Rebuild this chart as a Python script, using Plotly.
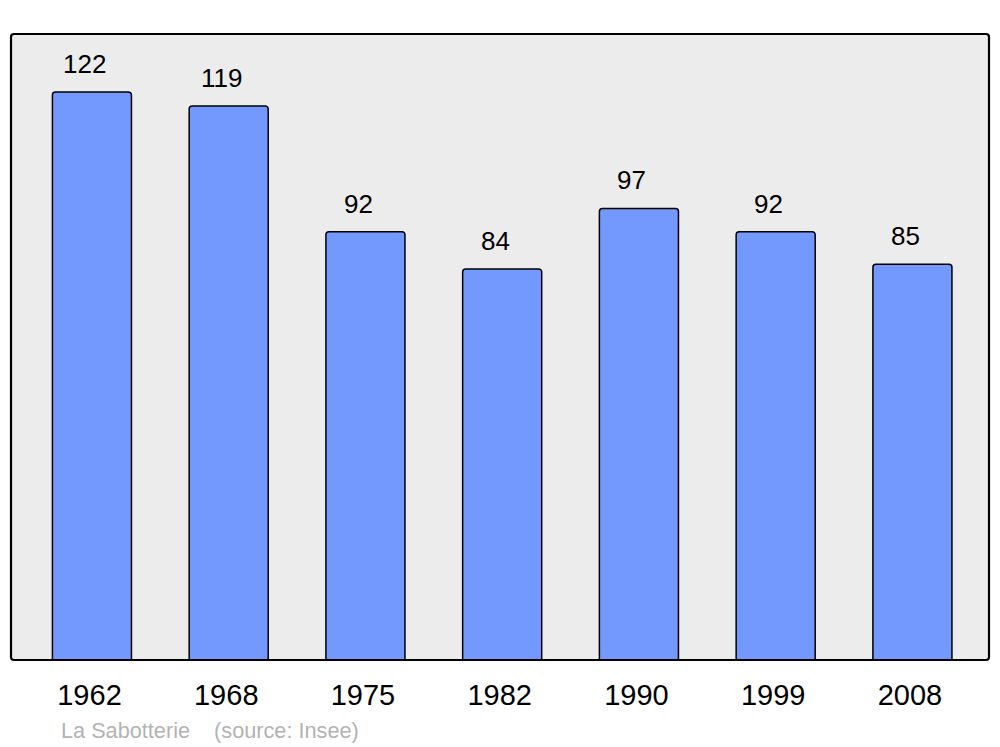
import plotly.graph_objects as go

years = ["1962", "1968", "1975", "1982", "1990", "1999", "2008"]
population = [122, 119, 92, 84, 97, 92, 85]
footer_place = "La Sabotterie"
footer_source = "(source: Insee)"

xpos = list(range(len(years)))

fig = go.Figure()
fig.add_trace(go.Bar(
    x=xpos, y=population, width=0.578,
    marker=dict(color="#7399ff", line=dict(color="black", width=1.5), cornerradius=3),
    hoverinfo="skip",
))

for x, v in zip(xpos, population):
    fig.add_annotation(x=x, y=v, text=str(v), showarrow=False, yanchor="bottom",
                       yshift=11, xshift=-7,
                       font=dict(size=26, color="black", family="Liberation Sans"))

fig.add_annotation(xref="paper", yref="paper", x=(59 - 11) / 978, y=(660 - 730) / 626,
                   xanchor="left", yanchor="middle",
                   text=footer_place + "\u00a0\u00a0\u00a0\u00a0" + footer_source,
                   showarrow=False,
                   font=dict(size=21.7, color="#b3b3b3", family="Liberation Sans"))

# rounded border around plot area
rx, ry = 3 / 978, 3 / 626
path = (f"M {rx},0 L {1-rx},0 Q 1,0 1,{ry} L 1,{1-ry} Q 1,1 {1-rx},1 "
        f"L {rx},1 Q 0,1 0,{1-ry} L 0,{ry} Q 0,0 {rx},0 Z")
fig.add_shape(type="path", path=path, xref="paper", yref="paper",
              line=dict(color="black", width=2.2), layer="above")

# page body has an 8px default margin; compensate so the plot lands at 11..989 x 34..660
fig.update_layout(
    width=992, height=739,
    margin=dict(l=3, r=11, t=26, b=87),
    paper_bgcolor="white", plot_bgcolor="#ececec",
    showlegend=False,
    font=dict(family="Liberation Sans", color="black"),
    xaxis=dict(range=[-0.592, 6.560], tickmode="array",
               tickvals=[x - 0.018 for x in xpos], ticktext=years,
               showgrid=False, zeroline=False, showline=False, ticks="",
               ticklabelstandoff=15,
               tickfont=dict(size=29, color="black"), fixedrange=True),
    yaxis=dict(range=[0, 134.46], showgrid=False, zeroline=False, showline=False,
               showticklabels=False, ticks="", fixedrange=True),
)

fig.write_html("out.html")
